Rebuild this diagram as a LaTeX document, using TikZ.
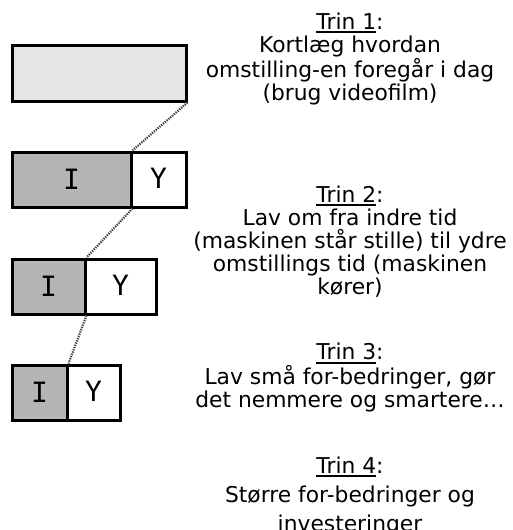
\documentclass[tikz,border=0pt]{standalone}
\usepackage{fontspec}
\setmainfont{DejaVu Sans}
\newfontfamily\boxfont{DejaVu Sans Mono}
\newcommand\trinul[1]{\setbox0\hbox{#1}\rlap{\rule[-4pt]{\wd0}{2pt}}\box0}
\begin{document}
\begin{tikzpicture}[x=1pt,y=-1pt,
  cell/.style={draw=black, line width=3pt, inner sep=0pt, minimum height=55pt,
    font=\boxfont\fontsize{28}{28}\selectfont},
  icell/.style={cell, fill=black!29},
  ycell/.style={cell, fill=white},
  link/.style={draw=black!75, line width=2.2pt, dash pattern=on 1.3pt off 1.1pt},
  txt/.style={align=center, inner sep=0pt, anchor=base, font=\fontsize{21.8}{23}\selectfont},
  txtw/.style={txt, font=\fontsize{21.8}{29}\selectfont}]
\useasboundingbox (0,0) rectangle (512,530);
% step boxes
\node[cell, fill=black!10, minimum width=174pt, minimum height=56pt] (b1) at (99,73) {};
\node[icell, minimum width=119pt] (i2) at (71.5,179.5) {\raisebox{-2pt}{I}};
\node[ycell, minimum width=55pt] (y2) at (158.5,179.5) {\raisebox{3pt}{Y}};
\node[icell, minimum width=73pt] (i3) at (48.5,286.5) {\raisebox{-2pt}{I}};
\node[ycell, minimum width=71pt] (y3) at (120.5,286.5) {\raisebox{3pt}{Y}};
\node[icell, minimum width=55pt] (i4) at (39.5,392.5) {\raisebox{-2pt}{I}};
\node[ycell, minimum width=53pt] (y4) at (93.5,392.5) {\raisebox{3pt}{Y}};
% connectors
\draw[link] (b1.south east) -- (i2.north east);
\draw[link] (i2.south east) -- (i3.north east);
\draw[link] (i3.south east) -- (i4.north east);
% texts (anchored at the baseline of the last line)
\node[txt] (t1) at (350,100) {\trinul{Trin 1}:\\Kortlæg hvordan\\omstilling-en foregår i dag\\(brug videofilm)};
\node[txt] (t2) at (350,294) {\trinul{Trin 2}:\\Lav om fra indre tid\\(maskinen står stille) til ydre\\omstillings tid (maskinen\\kører)};
\node[txt] (t3) at (350,407) {\trinul{Trin 3}:\\Lav små for-bedringer, gør\\det nemmere og smartere…};
\node[txtw] (t4) at (350,531) {\trinul{Trin 4}:\\Større for-bedringer og\\investeringer};
\end{tikzpicture}
\end{document}
